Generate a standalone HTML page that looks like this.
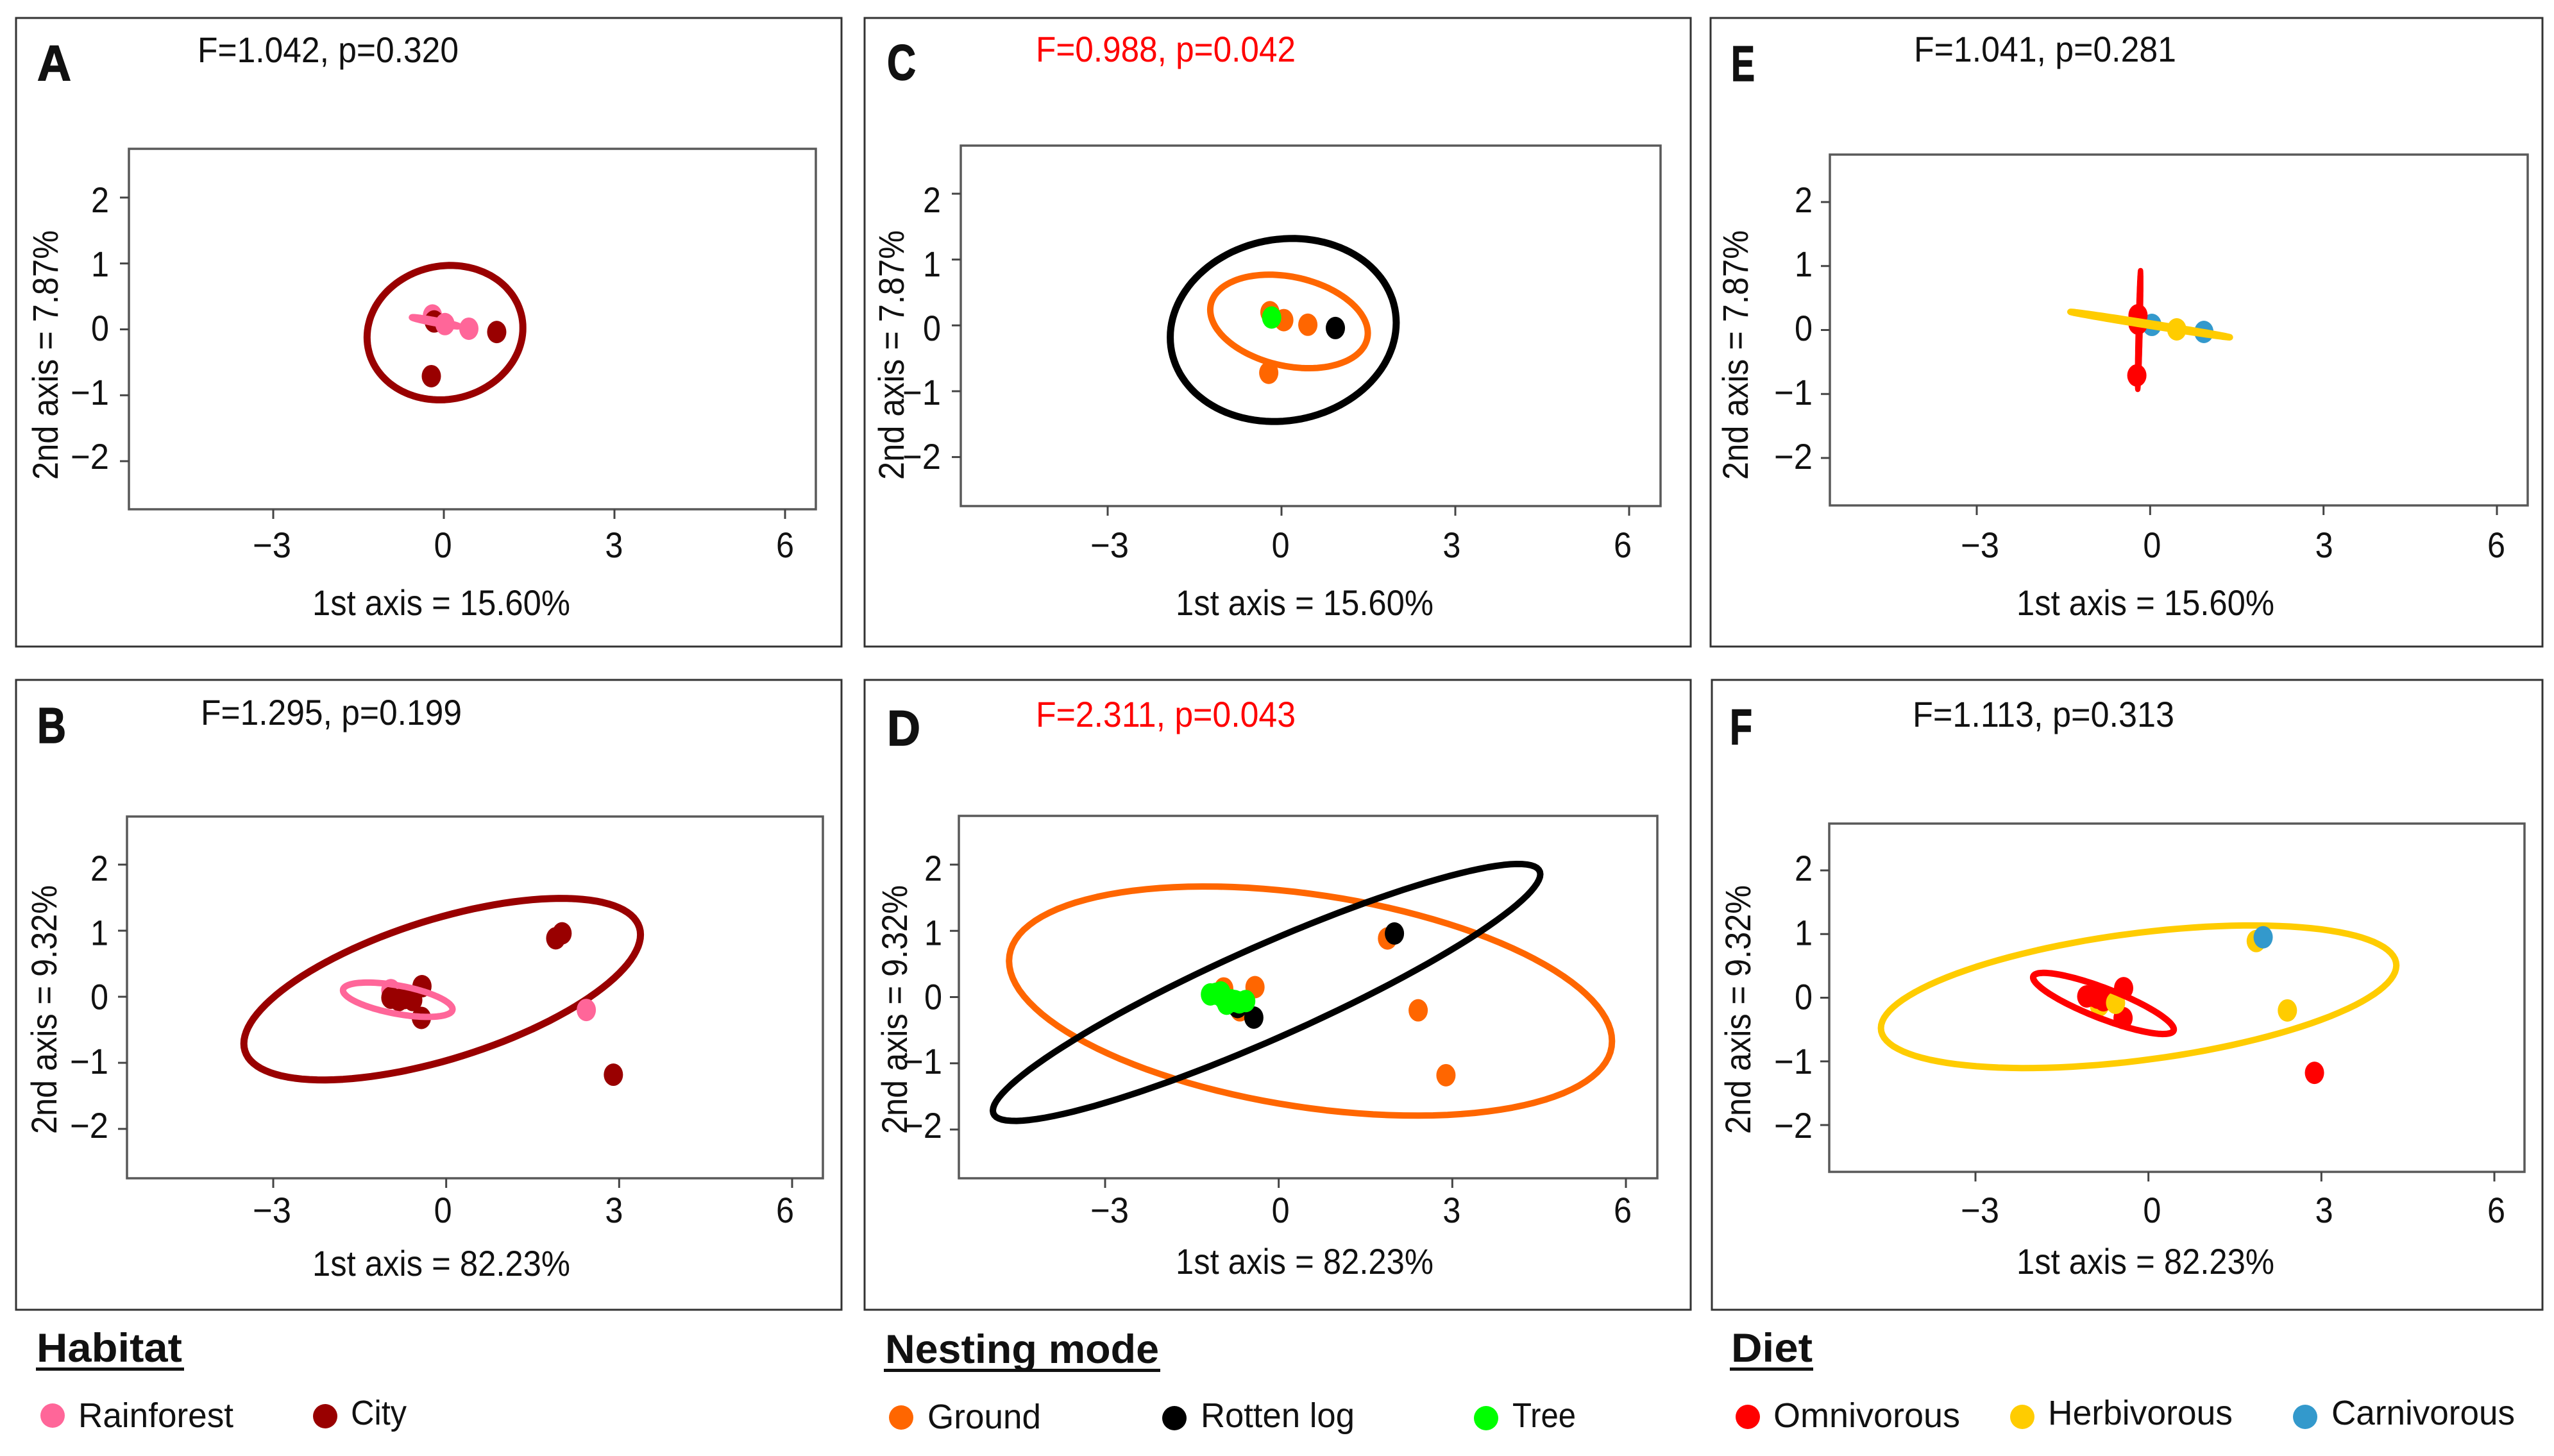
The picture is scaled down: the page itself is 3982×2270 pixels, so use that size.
<!DOCTYPE html>
<html lang="en">
<head>
<meta charset="utf-8">
<title>Ordination panels by habitat, nesting mode and diet</title>
<style>
html,body{margin:0;padding:0;background:#fff;}
svg{display:block;}
text{font-family:"Liberation Sans",sans-serif;fill:#111;}
</style>
</head>
<body>
<svg id="figure" xmlns="http://www.w3.org/2000/svg" width="3982" height="2270" viewBox="0 0 3982 2270">
  <rect x="0" y="0" width="3982" height="2270" fill="#fff"/>
  <g id="panels"></g>

  <g>
    <text x="57" y="2123" font-size="63" font-weight="700" textLength="227" lengthAdjust="spacingAndGlyphs">Habitat</text>
    <rect x="56" y="2132" width="231" height="5" fill="#111"/>
    <circle cx="82" cy="2207" r="19" fill="#ff6699"/>
    <text x="122" y="2225" font-size="54" textLength="242" lengthAdjust="spacingAndGlyphs">Rainforest</text>
    <circle cx="507" cy="2208" r="19" fill="#990000"/>
    <text x="547" y="2221" font-size="54" textLength="87" lengthAdjust="spacingAndGlyphs">City</text>
  </g>
  <g>
    <text x="1380" y="2125" font-size="63" font-weight="700" textLength="427" lengthAdjust="spacingAndGlyphs">Nesting mode</text>
    <rect x="1378" y="2134" width="431" height="5" fill="#111"/>
    <circle cx="1405" cy="2210" r="19" fill="#ff6600"/>
    <text x="1446" y="2227" font-size="54" textLength="177" lengthAdjust="spacingAndGlyphs">Ground</text>
    <circle cx="1831" cy="2211" r="19" fill="#000000"/>
    <text x="1872" y="2225" font-size="54" textLength="240" lengthAdjust="spacingAndGlyphs">Rotten log</text>
    <circle cx="2317" cy="2211" r="19" fill="#00ff00"/>
    <text x="2358" y="2225" font-size="54" textLength="99" lengthAdjust="spacingAndGlyphs">Tree</text>
  </g>
  <g>
    <text x="2699" y="2123" font-size="63" font-weight="700" textLength="127" lengthAdjust="spacingAndGlyphs">Diet</text>
    <rect x="2697" y="2132" width="130" height="5" fill="#111"/>
    <circle cx="2725" cy="2209" r="19" fill="#ff0000"/>
    <text x="2765" y="2225" font-size="54" textLength="291" lengthAdjust="spacingAndGlyphs">Omnivorous</text>
    <circle cx="3153" cy="2209" r="19" fill="#ffcc00"/>
    <text x="3193" y="2221" font-size="54" textLength="288" lengthAdjust="spacingAndGlyphs">Herbivorous</text>
    <circle cx="3594" cy="2209" r="19" fill="#3399cc"/>
    <text x="3635" y="2221" font-size="54" textLength="286" lengthAdjust="spacingAndGlyphs">Carnivorous</text>
  </g>
</svg>

<script>
// Axis tick labels
const xTicks = [-3, 0, 3, 6];
const yTicks = [-2, -1, 0, 1, 2];

// Panel A (x, y values); ellipses are [centre x, centre y, x radius, y radius, correlation]
const aRainforestBackX = [-0.2];
const aRainforestBackY = [0.21];
const aCityX = [-0.17, 0.93, -0.22];
const aCityY = [0.12, -0.04, -0.71];
const aRainforestFrontX = [0.02, 0.44];
const aRainforestFrontY = [0.08, 0.01];
const aCityEllipse = [0.02, -0.05, 1.37, 1.02, 0.07];
const aRainforestEllipse = [-0.15, 0.115, 0.41, 0.07, -0.95];

// Panel B
const bRainforestX = [2.43, -0.96];
const bRainforestY = [-0.2, 0.1];
const bCityX = [1.9, 2.01, 2.9, -0.42, -0.43, -0.96, -0.82, -0.58, -0.73];
const bCityY = [0.885, 0.96, -1.18, 0.16, -0.32, -0.015, -0.05, -0.05, -0.02];
const bCityEllipse = [-0.07, 0.115, 3.44, 1.374, 0.6];
const bRainforestEllipse = [-0.84, -0.045, 0.95, 0.26, -0.55];

// Panel C
const cGroundX = [-0.2, 0.04, 0.455, -0.22];
const cGroundY = [0.2, 0.08, 0.01, -0.72];
const cRottenX = [0.93];
const cRottenY = [-0.04];
const cTreeX = [-0.17];
const cTreeY = [0.12];
const cRottenEllipse = [0.03, -0.07, 1.95, 1.39, 0.08];
const cGroundEllipse = [0.13, 0.06, 1.36, 0.71, -0.25];

// Panel D
const dGroundX = [1.88, 2.41, 2.89, -0.41, -0.95, -0.67];
const dGroundY = [0.885, -0.2, -1.18, 0.15, 0.13, -0.2];
const dRottenX = [2.0, -0.43, -0.71];
const dRottenY = [0.96, -0.31, -0.15];
const dTreeX = [-1.18, -1.08, -1.0, -0.95, -0.9, -0.82, -0.76, -0.68, -0.57];
const dTreeY = [0.04, 0.05, 0.07, -0.02, -0.1, -0.05, -0.06, -0.08, -0.06];
const dGroundEllipse = [0.55, -0.06, 5.21, 1.73, -0.35];
const dRottenEllipse = [-0.21, 0.07, 4.73, 1.94, 0.92];

// Panel E
const eCarnivorousX = [0.03, 0.93];
const eCarnivorousY = [0.08, -0.03];
const eOmnivorousX = [-0.21, -0.21, -0.23];
const eOmnivorousY = [0.23, 0.1, -0.71];
const eHerbivorousX = [0.46];
const eHerbivorousY = [0.01];
const eOmnivorousEllipse = [-0.19, 0.0, 0.03, 0.93, 0.8];
const eHerbivorousEllipse = [0.0, 0.085, 1.38, 0.2, -0.995];

// Panel F
const fHerbivorousBackX = [1.87, 2.41, -0.85];
const fHerbivorousBackY = [0.89, -0.2, -0.12];
const fCarnivorousX = [1.99];
const fCarnivorousY = [0.95];
const fOmnivorousX = [2.88, -0.43, -0.44, -1.07, -0.95, -0.88, -0.78];
const fOmnivorousY = [-1.18, 0.15, -0.32, 0.02, 0.03, 0.0, -0.04];
const fHerbivorousFrontX = [-0.57];
const fHerbivorousFrontY = [-0.08];
const fHerbivorousEllipse = [-0.17, 0.015, 4.47, 1.12, 0.44];
const fOmnivorousEllipse = [-0.78, -0.09, 1.22, 0.48, -0.85];

const PINK = '#ff6699', DARK = '#990000', ORANGE = '#ff6600', BLACK = '#000000',
      GREEN = '#00ff00', RED = '#ff0000', YELLOW = '#ffcc00', BLUE = '#3399cc';

const NS = 'http://www.w3.org/2000/svg';

function panelLayers(id) {
  if (id === 'A') return [
    ['ellipse', aCityEllipse, DARK, 'city', 11],
    ['points', aRainforestBackX, aRainforestBackY, PINK, 'rainforest'],
    ['points', aCityX, aCityY, DARK, 'city'],
    ['points', aRainforestFrontX, aRainforestFrontY, PINK, 'rainforest'],
    ['ellipse', aRainforestEllipse, PINK, 'rainforest', 10]
  ];
  if (id === 'B') return [
    ['ellipse', bCityEllipse, DARK, 'city', 11],
    ['points', bRainforestX, bRainforestY, PINK, 'rainforest'],
    ['points', bCityX, bCityY, DARK, 'city'],
    ['ellipse', bRainforestEllipse, PINK, 'rainforest', 10]
  ];
  if (id === 'C') return [
    ['ellipse', cRottenEllipse, BLACK, 'rotten-log', 11],
    ['ellipse', cGroundEllipse, ORANGE, 'ground', 10],
    ['points', cGroundX, cGroundY, ORANGE, 'ground'],
    ['points', cRottenX, cRottenY, BLACK, 'rotten-log'],
    ['points', cTreeX, cTreeY, GREEN, 'tree']
  ];
  if (id === 'D') return [
    ['ellipse', dGroundEllipse, ORANGE, 'ground', 10],
    ['ellipse', dRottenEllipse, BLACK, 'rotten-log', 10],
    ['points', dGroundX, dGroundY, ORANGE, 'ground'],
    ['points', dRottenX, dRottenY, BLACK, 'rotten-log'],
    ['points', dTreeX, dTreeY, GREEN, 'tree']
  ];
  if (id === 'E') return [
    ['points', eCarnivorousX, eCarnivorousY, BLUE, 'carnivorous'],
    ['points', eOmnivorousX, eOmnivorousY, RED, 'omnivorous'],
    ['ellipse', eOmnivorousEllipse, RED, 'omnivorous', 8],
    ['points', eHerbivorousX, eHerbivorousY, YELLOW, 'herbivorous'],
    ['ellipse', eHerbivorousEllipse, YELLOW, 'herbivorous', 10]
  ];
  return [
    ['ellipse', fHerbivorousEllipse, YELLOW, 'herbivorous', 10],
    ['points', fHerbivorousBackX, fHerbivorousBackY, YELLOW, 'herbivorous'],
    ['points', fCarnivorousX, fCarnivorousY, BLUE, 'carnivorous'],
    ['points', fOmnivorousX, fOmnivorousY, RED, 'omnivorous'],
    ['points', fHerbivorousFrontX, fHerbivorousFrontY, YELLOW, 'herbivorous'],
    ['ellipse', fOmnivorousEllipse, RED, 'omnivorous', 10]
  ];
}

// Page layout for each panel (pixel geometry, not data)
const panelLayouts = [
  {id:'A', box:[25,28,1312,1008], plot:[201,232,1272,794], xa:[426,1224], ya:[719,308], xl:[424,1224], yl:[711,311],
   stat:'F=1.042, p=0.320', statColor:'#111', stat_x:308, stat_y:97, stat_w:407,
   letter_x:58, letter_y:125, letter_w:53,
   xlab:'1st axis = 15.60%', xlab_x:487, xlab_y:959, ylab:'2nd axis = 7.87%', ylab_x:90, ylab_y:748, ylab_w:389,
   tickx_y:869, ticky_r:170},
  {id:'B', box:[25,1060,1312,2042], plot:[198,1273,1283,1837], xa:[426,1235], ya:[1760,1348], xl:[424,1224], yl:[1754,1353],
   stat:'F=1.295, p=0.199', statColor:'#111', stat_x:313, stat_y:1130, stat_w:407,
   letter_x:58, letter_y:1158, letter_w:45,
   xlab:'1st axis = 82.23%', xlab_x:487, xlab_y:1989, ylab:'2nd axis = 9.32%', ylab_x:88, ylab_y:1768, ylab_w:388,
   tickx_y:1906, ticky_r:169},
  {id:'C', box:[1348,28,2636,1008], plot:[1498,227,2589,789], xa:[1727,2540], ya:[712.6,302], xl:[1730,2530], yl:[711,311],
   stat:'F=0.988, p=0.042', statColor:'#ff0000', stat_x:1615, stat_y:96, stat_w:405,
   letter_x:1383, letter_y:124, letter_w:45,
   xlab:'1st axis = 15.60%', xlab_x:1833, xlab_y:959, ylab:'2nd axis = 7.87%', ylab_x:1409, ylab_y:748, ylab_w:389,
   tickx_y:869, ticky_r:1467},
  {id:'D', box:[1348,1060,2636,2042], plot:[1495,1272,2584,1837], xa:[1723,2535], ya:[1761,1348], xl:[1730,2530], yl:[1754,1353],
   stat:'F=2.311, p=0.043', statColor:'#ff0000', stat_x:1615, stat_y:1133, stat_w:405,
   letter_x:1383, letter_y:1162, letter_w:52,
   xlab:'1st axis = 82.23%', xlab_x:1833, xlab_y:1986, ylab:'2nd axis = 9.32%', ylab_x:1414, ylab_y:1768, ylab_w:388,
   tickx_y:1906, ticky_r:1469},
  {id:'E', box:[2667,28,3964,1008], plot:[2853,241,3941,788], xa:[3082,3893], ya:[714,315], xl:[3087,3892], yl:[711,311],
   stat:'F=1.041, p=0.281', statColor:'#111', stat_x:2984, stat_y:96, stat_w:409,
   letter_x:2699, letter_y:126, letter_w:37,
   xlab:'1st axis = 15.60%', xlab_x:3144, xlab_y:959, ylab:'2nd axis = 7.87%', ylab_x:2725, ylab_y:748, ylab_w:389,
   tickx_y:869, ticky_r:2826},
  {id:'F', box:[2669,1060,3964,2042], plot:[2852,1284,3936,1827], xa:[3080,3889], ya:[1754,1357], xl:[3087,3892], yl:[1754,1353],
   stat:'F=1.113, p=0.313', statColor:'#111', stat_x:2982, stat_y:1133, stat_w:408,
   letter_x:2697, letter_y:1160, letter_w:35,
   xlab:'1st axis = 82.23%', xlab_x:3144, xlab_y:1986, ylab:'2nd axis = 9.32%', ylab_x:2729, ylab_y:1768, ylab_w:388,
   tickx_y:1906, ticky_r:2826}
];

function makeScale(tickValues, anchors) {
  const v0 = tickValues[0], v1 = tickValues[tickValues.length - 1];
  return function (v) {
    return anchors[0] + (v - v0) * (anchors[1] - anchors[0]) / (v1 - v0);
  };
}

function ellipsePath(spec, sx, sy) {
  const cx = spec[0], cy = spec[1], rx = spec[2], ry = spec[3], rho = spec[4];
  const q = Math.sqrt(1 - rho * rho);
  let d = '';
  const n = 120;
  for (let i = 0; i < n; i++) {
    const t = 2 * Math.PI * i / n;
    const px = sx(cx + rx * Math.cos(t));
    const py = sy(cy + ry * (rho * Math.cos(t) + q * Math.sin(t)));
    d += (i ? 'L' : 'M') + px.toFixed(1) + ' ' + py.toFixed(1);
  }
  return d + 'Z';
}

function addText(parent, name, str, x, y, size, opts) {
  const el = document.createElementNS(NS, 'text');
  
  
  el.setAttribute('x', x);
  el.setAttribute('y', y);
  el.setAttribute('font-size', size);
  if (opts.anchor) el.setAttribute('text-anchor', opts.anchor);
  if (opts.weight) el.setAttribute('font-weight', opts.weight);
  if (opts.fill) el.style.fill = opts.fill;
  if (opts.stroke) {
    el.setAttribute('stroke', '#111');
    el.setAttribute('stroke-width', opts.stroke);
  }
  if (opts.width) {
    el.setAttribute('textLength', opts.width);
    el.setAttribute('lengthAdjust', 'spacingAndGlyphs');
  }
  if (opts.rotate) el.setAttribute('transform', 'rotate(-90 ' + x + ' ' + y + ')');
  el.textContent = str;
  parent.appendChild(el);
  return el;
}

function fmt(v) { return v < 0 ? '\u2212' + Math.abs(v) : String(v); }

const root = document.getElementById('panels');

panelLayouts.forEach(function (p) {
  const key = p.id.toLowerCase();
  const g = document.createElementNS(NS, 'g');
  
  
  root.appendChild(g);

  const frame = document.createElementNS(NS, 'rect');
  
  
  frame.setAttribute('x', p.box[0]);
  frame.setAttribute('y', p.box[1]);
  frame.setAttribute('width', p.box[2] - p.box[0]);
  frame.setAttribute('height', p.box[3] - p.box[1]);
  frame.setAttribute('fill', '#fff');
  frame.setAttribute('stroke', '#333');
  frame.setAttribute('stroke-width', '3');
  g.appendChild(frame);

  const area = document.createElementNS(NS, 'rect');
  
  
  area.setAttribute('x', p.plot[0]);
  area.setAttribute('y', p.plot[1]);
  area.setAttribute('width', p.plot[2] - p.plot[0]);
  area.setAttribute('height', p.plot[3] - p.plot[1]);
  area.setAttribute('fill', '#fff');
  area.setAttribute('stroke', '#595959');
  area.setAttribute('stroke-width', '3.5');
  g.appendChild(area);

  const sx = makeScale(xTicks, p.xa);
  const sy = makeScale(yTicks, p.ya);
  const lx = makeScale(xTicks, p.xl);
  const ly = makeScale(yTicks, p.yl);

  xTicks.forEach(function (v) {
    const tick = document.createElementNS(NS, 'line');
    
    
    tick.setAttribute('x1', sx(v));
    tick.setAttribute('x2', sx(v));
    tick.setAttribute('y1', p.plot[3]);
    tick.setAttribute('y2', p.plot[3] + 15);
    tick.setAttribute('stroke', '#444');
    tick.setAttribute('stroke-width', '3');
    g.appendChild(tick);
    addText(g, 'x-tick-label', fmt(v), lx(v), p.tickx_y, 56, {anchor: 'middle', width: v < 0 ? 60 : 28});
  });

  yTicks.forEach(function (v) {
    const tick = document.createElementNS(NS, 'line');
    
    
    tick.setAttribute('x1', p.plot[0] - 14);
    tick.setAttribute('x2', p.plot[0]);
    tick.setAttribute('y1', sy(v));
    tick.setAttribute('y2', sy(v));
    tick.setAttribute('stroke', '#444');
    tick.setAttribute('stroke-width', '3');
    g.appendChild(tick);
    const labelWidth = v < 0 ? 60 : 28;
    addText(g, 'y-tick-label', fmt(v), p.ticky_r - labelWidth, ly(v) + 20, 56, {width: labelWidth});
  });

  panelLayers(p.id).forEach(function (layer) {
    if (layer[0] === 'ellipse') {
      const path = document.createElementNS(NS, 'path');
      
      
      path.setAttribute('d', ellipsePath(layer[1], sx, sy));
      path.setAttribute('fill', 'none');
      path.setAttribute('stroke', layer[2]);
      path.setAttribute('stroke-width', layer[4]);
      path.setAttribute('stroke-linejoin', 'round');
      g.appendChild(path);
    } else {
      const xs = layer[1], ys = layer[2];
      xs.forEach(function (xv, i) {
        const pt = document.createElementNS(NS, 'ellipse');
        
        
        pt.setAttribute('cx', sx(xv));
        pt.setAttribute('cy', sy(ys[i]));
        pt.setAttribute('rx', 15);
        pt.setAttribute('ry', 17.5);
        pt.setAttribute('fill', layer[3]);
        g.appendChild(pt);
      });
    }
  });

  addText(g, 'panel-' + key + '-letter', p.id, p.letter_x, p.letter_y, 78, {weight: 700, width: p.letter_w, stroke: 1.5});
  addText(g, 'panel-' + key + '-statistics', p.stat, p.stat_x, p.stat_y, 56, {fill: p.statColor, width: p.stat_w});
  addText(g, 'panel-' + key + '-x-axis-title', p.xlab, p.xlab_x, p.xlab_y, 56, {width: 402});
  addText(g, 'panel-' + key + '-y-axis-title', p.ylab, p.ylab_x, p.ylab_y, 56, {width: p.ylab_w, rotate: true});
});
</script>
</body>
</html>
